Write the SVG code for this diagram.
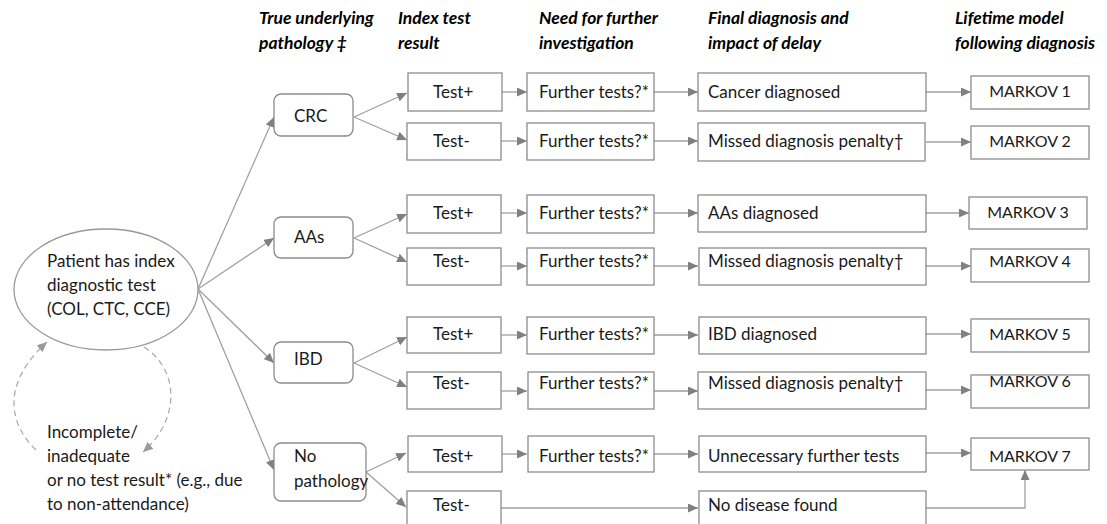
<svg xmlns="http://www.w3.org/2000/svg" width="1107" height="524" viewBox="0 0 1107 524">
<style>
.hd{font-family:Lato,"Liberation Sans",sans-serif;font-size:17.5px;font-weight:bold;font-style:italic;fill:#000}
.t{font-family:Lato,"Liberation Sans",sans-serif;font-size:17px;fill:#1a1a1a}
.mk{font-family:Lato,"Liberation Sans",sans-serif;font-size:16px;fill:#1a1a1a;text-anchor:middle}
.box{fill:#fff;stroke:#8c8c8c;stroke-width:1.3}
.rbox{fill:#fff;stroke:#8c8c8c;stroke-width:1.3}
.c{fill:none;stroke:#a0a0a0;stroke-width:1.3;marker-end:url(#ah)}
.d{fill:none;stroke:#a8a8a8;stroke-width:1.2;stroke-dasharray:6 4;marker-end:url(#ah2)}
</style>
<defs>
<marker id="ah" markerUnits="userSpaceOnUse" markerWidth="11" markerHeight="9" refX="10" refY="4.5" orient="auto">
<path d="M0,0 L10,4.5 L0,9 z" fill="#808080"/>
</marker>
<marker id="ah2" markerUnits="userSpaceOnUse" markerWidth="11" markerHeight="9" refX="10" refY="4.5" orient="auto">
<path d="M0,0 L10,4.5 L0,9 z" fill="#9a9a9a"/>
</marker>
</defs>
<rect width="1107" height="524" fill="#fff"/>

<g id="headers">
<text class="hd" x="259" y="24">True underlying</text>
<text class="hd" x="259" y="49">pathology ‡</text>
<text class="hd" x="398" y="24">Index test</text>
<text class="hd" x="398" y="49">result</text>
<text class="hd" x="539" y="24">Need for further</text>
<text class="hd" x="539" y="49">investigation</text>
<text class="hd" x="708" y="24">Final diagnosis and</text>
<text class="hd" x="708" y="49">impact of delay</text>
<text class="hd" x="955" y="24">Lifetime model</text>
<text class="hd" x="955" y="49">following diagnosis</text>
</g>

<g id="connectors">
<path class="c" d="M198,289 L274,117"/>
<path class="c" d="M198,289 L274,238"/>
<path class="c" d="M198,289 L274,363"/>
<path class="c" d="M198,289 L274,470"/>
<path class="d" d="M36,450 C5,420 5,380 47,342"/>
<path class="d" d="M144,347 C180,370 180,420 143,452"/>

<path class="c" d="M354,117 L407,93"/>
<path class="c" d="M354,117 L407,140"/>
<path class="c" d="M354,238 L407,214"/>
<path class="c" d="M354,238 L407,262"/>
<path class="c" d="M354,363 L407,337"/>
<path class="c" d="M354,363 L407,387"/>
<path class="c" d="M366,472 L406,453"/>
<path class="c" d="M366,472 L406,507"/>

<path class="c" d="M502,92 L527,92"/>
<path class="c" d="M501,141 L527,141"/>
<path class="c" d="M501,213 L527,213"/>
<path class="c" d="M501,266 L527,266"/>
<path class="c" d="M501,335 L527,335"/>
<path class="c" d="M501,391 L527,391"/>
<path class="c" d="M502,454 L527,454"/>
<path class="c" d="M501,508 L698,508"/>

<path class="c" d="M654,92 L698,92"/>
<path class="c" d="M654,141 L698,141"/>
<path class="c" d="M654,213 L698,213"/>
<path class="c" d="M654,266 L698,266"/>
<path class="c" d="M654,335 L698,335"/>
<path class="c" d="M654,391 L698,391"/>
<path class="c" d="M654,454 L698,454"/>

<path class="c" d="M926,92 L971,92"/>
<path class="c" d="M926,142 L971,142"/>
<path class="c" d="M926,213 L969,213"/>
<path class="c" d="M926,266 L971,266"/>
<path class="c" d="M926,334 L971,334"/>
<path class="c" d="M926,390 L971,390"/>
<path class="c" d="M926,453 L971,453"/>
<path class="c" d="M926,508 L1025,508 L1025,470"/>
</g>

<g id="start">
<ellipse cx="106" cy="289.5" rx="92" ry="60.5" fill="#fff" stroke="#999" stroke-width="1.3"/>
<text class="t" x="47" y="267">Patient has index</text>
<text class="t" x="47" y="291">diagnostic test</text>
<text class="t" x="47" y="315">(COL, CTC, CCE)</text>
</g>
<g id="incomplete">
<text class="t" x="47" y="438">Incomplete/</text>
<text class="t" x="47" y="462">inadequate</text>
<text class="t" x="47" y="486">or no test result* (e.g., due</text>
<text class="t" x="47" y="510">to non-attendance)</text>
</g>

<g id="crc"><rect class="rbox" x="274" y="94" width="79" height="42" rx="7"/><text class="t" x="294" y="122">CRC</text></g>
<g id="aas"><rect class="rbox" x="274" y="217" width="79" height="41" rx="7"/><text class="t" x="294" y="243">AAs</text></g>
<g id="ibd"><rect class="rbox" x="274" y="342" width="79" height="41" rx="7"/><text class="t" x="294" y="365">IBD</text></g>
<g id="nopath"><rect class="rbox" x="274" y="443" width="92" height="58" rx="7"/><text class="t" x="294" y="462">No</text><text class="t" x="294" y="487">pathology</text></g>

<g id="testA"><rect class="box" x="408" y="73" width="94" height="38"/><text class="t" x="433" y="98">Test+</text></g>
<g id="testB"><rect class="box" x="407" y="123" width="94" height="37"/><text class="t" x="433" y="147">Test-</text></g>
<g id="testC"><rect class="box" x="407" y="195" width="94" height="38"/><text class="t" x="433" y="219">Test+</text></g>
<g id="testD"><rect class="box" x="407" y="248" width="94" height="37"/><text class="t" x="433" y="267">Test-</text></g>
<g id="testE"><rect class="box" x="407" y="317" width="94" height="36"/><text class="t" x="433" y="340">Test+</text></g>
<g id="testF"><rect class="box" x="407" y="372" width="94" height="37"/><text class="t" x="433" y="389">Test-</text></g>
<g id="testG"><rect class="box" x="408" y="436" width="94" height="36"/><text class="t" x="433" y="462">Test+</text></g>
<g id="testH"><rect class="box" x="407" y="491" width="94" height="40"/><text class="t" x="433" y="511">Test-</text></g>

<g id="ftA"><rect class="box" x="527" y="73" width="127" height="38"/><text class="t" x="539" y="98">Further tests?*</text></g>
<g id="ftB"><rect class="box" x="527" y="123" width="127" height="37"/><text class="t" x="539" y="147">Further tests?*</text></g>
<g id="ftC"><rect class="box" x="527" y="195" width="127" height="38"/><text class="t" x="539" y="219">Further tests?*</text></g>
<g id="ftD"><rect class="box" x="527" y="248" width="127" height="37"/><text class="t" x="539" y="267">Further tests?*</text></g>
<g id="ftE"><rect class="box" x="527" y="317" width="127" height="37"/><text class="t" x="539" y="340">Further tests?*</text></g>
<g id="ftF"><rect class="box" x="528" y="372" width="126" height="37"/><text class="t" x="539" y="389">Further tests?*</text></g>
<g id="ftG"><rect class="box" x="528" y="436" width="126" height="36"/><text class="t" x="539" y="462">Further tests?*</text></g>

<g id="fdA"><rect class="box" x="698" y="73" width="228" height="38"/><text class="t" x="708" y="98">Cancer diagnosed</text></g>
<g id="fdB"><rect class="box" x="698" y="123" width="227" height="38"/><text class="t" x="708" y="147">Missed diagnosis penalty†</text></g>
<g id="fdC"><rect class="box" x="698" y="195" width="228" height="37"/><text class="t" x="708" y="219">AAs diagnosed</text></g>
<g id="fdD"><rect class="box" x="699" y="248" width="227" height="37"/><text class="t" x="708" y="267">Missed diagnosis penalty†</text></g>
<g id="fdE"><rect class="box" x="699" y="317" width="227" height="37"/><text class="t" x="708" y="340">IBD diagnosed</text></g>
<g id="fdF"><rect class="box" x="698" y="372" width="228" height="37"/><text class="t" x="708" y="389">Missed diagnosis penalty†</text></g>
<g id="fdG"><rect class="box" x="699" y="436" width="227" height="36"/><text class="t" x="708" y="462">Unnecessary further tests</text></g>
<g id="fdH"><rect class="box" x="699" y="491" width="227" height="40"/><text class="t" x="708" y="511">No disease found</text></g>

<g id="markov1"><rect class="box" x="971" y="76" width="118" height="33"/><text class="mk" x="1030" y="97">MARKOV 1</text></g>
<g id="markov2"><rect class="box" x="971" y="126" width="118" height="33"/><text class="mk" x="1030" y="147">MARKOV 2</text></g>
<g id="markov3"><rect class="box" x="969" y="197" width="118" height="32"/><text class="mk" x="1028" y="218">MARKOV 3</text></g>
<g id="markov4"><rect class="box" x="971" y="249" width="118" height="33"/><text class="mk" x="1030" y="267">MARKOV 4</text></g>
<g id="markov5"><rect class="box" x="971" y="319" width="118" height="33"/><text class="mk" x="1030" y="340">MARKOV 5</text></g>
<g id="markov6"><rect class="box" x="971" y="375" width="118" height="33"/><text class="mk" x="1030" y="387">MARKOV 6</text></g>
<g id="markov7"><rect class="box" x="971" y="438" width="118" height="32"/><text class="mk" x="1030" y="462">MARKOV 7</text></g>
</svg>
